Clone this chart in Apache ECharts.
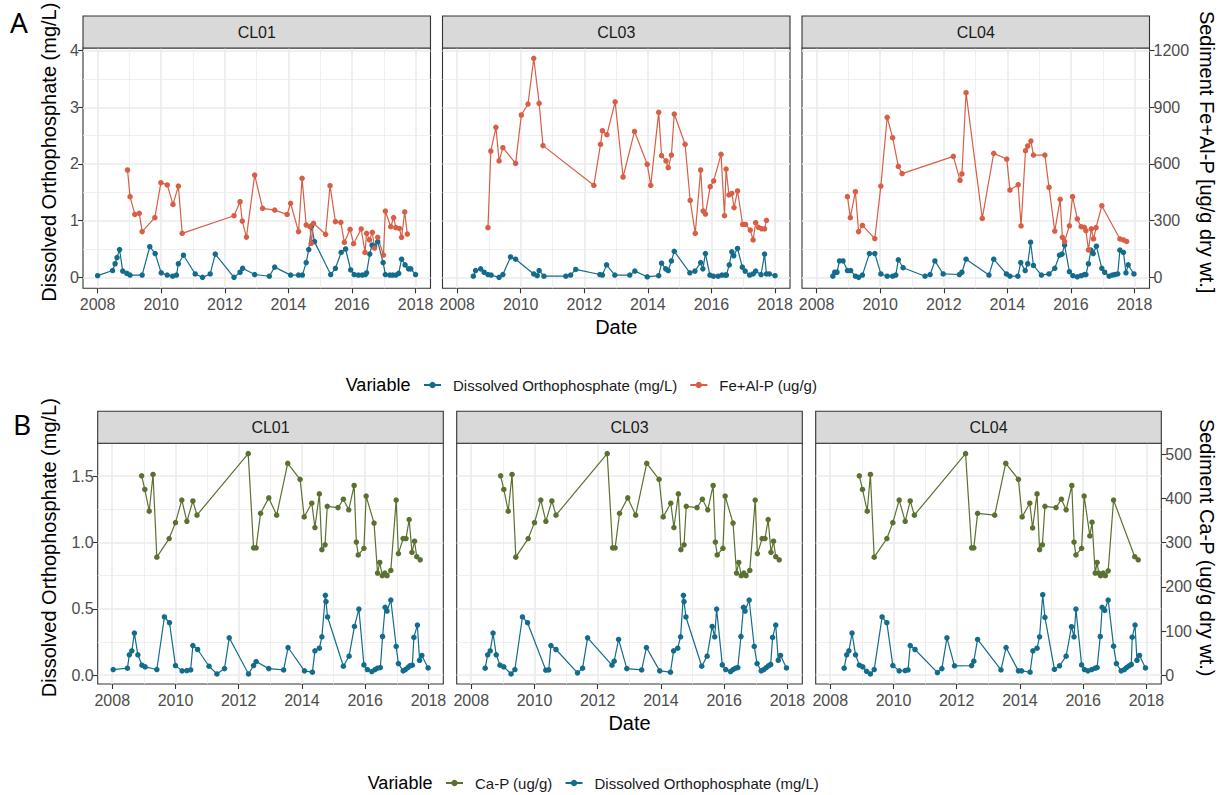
<!DOCTYPE html>
<html><head><meta charset="utf-8">
<script src="https://cdn.jsdelivr.net/npm/echarts@6/dist/echarts.min.js"></script>
<style>html,body{margin:0;padding:0;background:#fff}#c{width:1229px;height:795px}</style>
</head><body><div id="c"></div>
<script>
// ---------------- DATA (decimal year, value) ----------------
const SITES = ['CL01', 'CL03', 'CL04'];
const YEAR_TICKS = [2008, 2010, 2012, 2014, 2016, 2018];
const YEAR_MINOR = [2009, 2011, 2013, 2015, 2017];
const A_LEFT_TICKS = [0, 1, 2, 3, 4];
const A_LEFT_MINOR = [0.5, 1.5, 2.5, 3.5];
const A_RIGHT_TICKS = [0, 300, 600, 900, 1200];
const B_LEFT_TICKS = [0, 0.5, 1, 1.5];
const B_LEFT_MINOR = [0.25, 0.75, 1.25];
const B_RIGHT_TICKS = [0, 100, 200, 300, 400, 500];

const NAME_DO = 'Dissolved Orthophosphate (mg/L)';
const NAME_FEAL = 'Fe+Al-P (ug/g)';
const NAME_CAP = 'Ca-P (ug/g)';

// Panel A: dissolved orthophosphate (mg/L)
const A_CL01_DO = [[2008.00,0.03],[2008.47,0.12],[2008.55,0.24],[2008.61,0.35],[2008.69,0.49],[2008.79,0.11],[2008.92,0.07],[2009.02,0.04],[2009.40,0.04],[2009.64,0.54],[2009.81,0.42],[2010.00,0.08],[2010.19,0.04],[2010.36,0.02],[2010.48,0.04],[2010.54,0.24],[2010.70,0.39],[2011.07,0.06],[2011.30,0.00],[2011.54,0.06],[2011.70,0.41],[2012.29,0.00],[2012.48,0.09],[2012.56,0.16],[2012.94,0.05],[2013.40,0.02],[2013.57,0.18],[2014.07,0.04],[2014.32,0.04],[2014.44,0.04],[2014.56,0.26],[2014.64,0.49],[2014.73,0.91],[2014.82,0.63],[2015.33,0.05],[2015.48,0.16],[2015.66,0.44],[2015.80,0.50],[2015.96,0.13],[2016.07,0.05],[2016.20,0.04],[2016.32,0.04],[2016.42,0.05],[2016.46,0.08],[2016.56,0.41],[2016.63,0.57],[2016.71,0.55],[2016.81,0.63],[2016.98,0.26],[2017.05,0.05],[2017.19,0.04],[2017.28,0.04],[2017.38,0.04],[2017.47,0.07],[2017.56,0.32],[2017.67,0.22],[2017.78,0.15],[2017.85,0.15],[2018.00,0.05]];
const A_CL03_DO = [[2008.51,0.02],[2008.58,0.12],[2008.74,0.15],[2008.85,0.09],[2008.97,0.05],[2009.07,0.04],[2009.32,0.00],[2009.44,0.05],[2009.68,0.36],[2009.84,0.32],[2010.41,0.06],[2010.52,0.03],[2010.58,0.12],[2010.73,0.02],[2011.42,0.02],[2011.57,0.04],[2011.73,0.14],[2012.49,0.05],[2012.57,0.04],[2012.70,0.22],[2012.96,0.04],[2013.43,0.04],[2013.59,0.11],[2013.98,0.01],[2014.34,0.03],[2014.43,0.25],[2014.56,0.15],[2014.64,0.12],[2014.74,0.29],[2014.83,0.46],[2015.32,0.08],[2015.48,0.11],[2015.66,0.26],[2015.73,0.15],[2015.81,0.42],[2015.95,0.04],[2016.06,0.02],[2016.21,0.02],[2016.33,0.04],[2016.43,0.04],[2016.47,0.04],[2016.56,0.22],[2016.64,0.45],[2016.70,0.38],[2016.82,0.51],[2016.97,0.18],[2017.06,0.11],[2017.20,0.04],[2017.31,0.06],[2017.39,0.11],[2017.56,0.05],[2017.67,0.41],[2017.73,0.06],[2017.82,0.06],[2018.00,0.03]];
const A_CL04_DO = [[2008.51,0.02],[2008.57,0.09],[2008.64,0.09],[2008.72,0.29],[2008.83,0.29],[2008.97,0.12],[2009.07,0.12],[2009.22,0.02],[2009.32,0.00],[2009.44,0.04],[2009.66,0.42],[2009.83,0.42],[2010.02,0.06],[2010.22,0.02],[2010.39,0.02],[2010.49,0.04],[2010.57,0.31],[2010.72,0.17],[2011.41,0.02],[2011.57,0.05],[2011.72,0.29],[2011.98,0.06],[2012.49,0.05],[2012.57,0.09],[2012.70,0.32],[2013.42,0.04],[2013.57,0.32],[2013.97,0.06],[2014.08,0.02],[2014.33,0.02],[2014.42,0.26],[2014.56,0.12],[2014.64,0.24],[2014.73,0.62],[2014.82,0.21],[2015.07,0.04],[2015.31,0.06],[2015.49,0.16],[2015.64,0.39],[2015.72,0.41],[2015.80,0.57],[2015.95,0.10],[2016.06,0.03],[2016.20,0.01],[2016.32,0.03],[2016.42,0.05],[2016.47,0.05],[2016.55,0.24],[2016.63,0.48],[2016.70,0.42],[2016.80,0.55],[2016.97,0.16],[2017.06,0.09],[2017.20,0.02],[2017.30,0.04],[2017.38,0.05],[2017.47,0.06],[2017.54,0.48],[2017.65,0.44],[2017.73,0.08],[2017.80,0.22],[2017.98,0.06]];

// Panel A: sediment Fe+Al-P (ug/g dry wt.)
const A_CL01_FEAL = [[2008.94,568],[2009.02,427],[2009.17,333],[2009.31,339],[2009.40,242],[2009.80,316],[2009.99,501],[2010.19,489],[2010.37,386],[2010.54,483],[2010.66,233],[2012.29,326],[2012.48,400],[2012.55,298],[2012.68,213],[2012.94,541],[2013.19,365],[2013.57,356],[2013.96,333],[2014.07,392],[2014.32,242],[2014.43,524],[2014.56,277],[2014.68,268],[2014.72,180],[2014.79,286],[2015.17,228],[2015.31,485],[2015.48,295],[2015.65,291],[2015.76,185],[2015.94,254],[2016.05,178],[2016.29,256],[2016.41,132],[2016.46,233],[2016.55,198],[2016.64,238],[2016.71,155],[2016.81,212],[2016.99,118],[2017.05,351],[2017.22,268],[2017.31,316],[2017.38,263],[2017.49,259],[2017.56,212],[2017.66,346],[2017.74,229]];
const A_CL03_FEAL = [[2008.97,263],[2009.06,668],[2009.22,794],[2009.32,616],[2009.44,686],[2009.84,603],[2010.02,859],[2010.23,917],[2010.41,1159],[2010.58,921],[2010.70,697],[2012.30,487],[2012.51,704],[2012.57,776],[2012.71,755],[2012.97,929],[2013.22,531],[2013.58,772],[2013.98,598],[2014.09,487],[2014.34,873],[2014.43,644],[2014.57,616],[2014.64,580],[2014.74,647],[2014.83,864],[2015.17,704],[2015.33,407],[2015.49,233],[2015.66,568],[2015.74,351],[2015.81,335],[2015.96,480],[2016.07,510],[2016.30,651],[2016.41,326],[2016.46,573],[2016.55,436],[2016.64,444],[2016.71,369],[2016.82,457],[2016.98,280],[2017.07,280],[2017.22,250],[2017.31,198],[2017.39,289],[2017.48,265],[2017.58,257],[2017.67,256],[2017.73,302]];
const A_CL04_FEAL = [[2008.97,427],[2009.06,316],[2009.22,453],[2009.32,242],[2009.44,275],[2009.83,205],[2010.02,483],[2010.22,847],[2010.39,739],[2010.57,587],[2010.69,549],[2012.30,640],[2012.51,513],[2012.57,547],[2012.70,977],[2013.21,312],[2013.57,656],[2013.98,626],[2014.08,462],[2014.34,490],[2014.43,272],[2014.57,670],[2014.64,695],[2014.74,721],[2014.82,647],[2015.18,647],[2015.31,476],[2015.49,245],[2015.66,413],[2015.73,212],[2015.80,189],[2015.95,273],[2016.05,427],[2016.20,309],[2016.32,268],[2016.42,265],[2016.47,247],[2016.55,145],[2016.64,257],[2016.71,203],[2016.79,263],[2016.97,379],[2017.54,203],[2017.65,198],[2017.75,190]];

// Panel B: dissolved orthophosphate (mg/L)
const B_CL01_DO = [[2008.03,0.043],[2008.48,0.053],[2008.54,0.154],[2008.62,0.184],[2008.70,0.318],[2008.81,0.154],[2008.94,0.076],[2009.04,0.063],[2009.41,0.043],[2009.65,0.439],[2009.81,0.396],[2010.00,0.073],[2010.21,0.033],[2010.36,0.035],[2010.48,0.040],[2010.55,0.224],[2010.70,0.194],[2011.06,0.068],[2011.31,0.010],[2011.55,0.050],[2011.70,0.282],[2012.31,0.010],[2012.47,0.073],[2012.55,0.103],[2012.95,0.050],[2013.42,0.040],[2013.56,0.209],[2014.08,0.033],[2014.33,0.023],[2014.41,0.184],[2014.55,0.204],[2014.63,0.290],[2014.74,0.602],[2014.76,0.555],[2014.81,0.439],[2015.31,0.068],[2015.49,0.144],[2015.66,0.368],[2015.80,0.499],[2015.96,0.078],[2016.07,0.043],[2016.21,0.028],[2016.31,0.043],[2016.39,0.053],[2016.48,0.058],[2016.55,0.292],[2016.63,0.512],[2016.69,0.484],[2016.81,0.567],[2016.98,0.217],[2017.05,0.088],[2017.20,0.033],[2017.27,0.043],[2017.35,0.058],[2017.41,0.071],[2017.49,0.076],[2017.54,0.285],[2017.65,0.378],[2017.72,0.113],[2017.79,0.149],[2017.99,0.055]];
const B_CL03_DO = [[2008.44,0.053],[2008.52,0.154],[2008.60,0.184],[2008.69,0.318],[2008.79,0.154],[2008.91,0.076],[2009.03,0.063],[2009.26,0.010],[2009.38,0.043],[2009.62,0.439],[2009.78,0.396],[2010.36,0.038],[2010.45,0.040],[2010.52,0.224],[2010.68,0.194],[2011.36,0.018],[2011.52,0.053],[2011.68,0.282],[2012.45,0.076],[2012.52,0.106],[2012.66,0.270],[2012.92,0.050],[2013.39,0.040],[2013.54,0.209],[2013.96,0.033],[2014.30,0.023],[2014.40,0.184],[2014.53,0.204],[2014.62,0.290],[2014.71,0.602],[2014.73,0.555],[2014.79,0.439],[2015.29,0.068],[2015.46,0.144],[2015.62,0.368],[2015.70,0.290],[2015.76,0.499],[2015.94,0.078],[2016.05,0.043],[2016.20,0.028],[2016.28,0.043],[2016.36,0.053],[2016.43,0.058],[2016.53,0.292],[2016.61,0.512],[2016.66,0.484],[2016.79,0.567],[2016.95,0.217],[2017.04,0.088],[2017.17,0.033],[2017.25,0.043],[2017.33,0.058],[2017.40,0.071],[2017.47,0.081],[2017.53,0.285],[2017.63,0.378],[2017.71,0.113],[2017.78,0.149],[2017.97,0.055]];
const B_CL04_DO = [[2008.44,0.053],[2008.52,0.154],[2008.59,0.184],[2008.69,0.318],[2008.80,0.154],[2008.92,0.076],[2009.03,0.063],[2009.15,0.030],[2009.27,0.010],[2009.39,0.043],[2009.64,0.439],[2009.79,0.396],[2009.98,0.073],[2010.18,0.033],[2010.37,0.035],[2010.46,0.040],[2010.53,0.224],[2010.68,0.194],[2011.39,0.020],[2011.53,0.050],[2011.69,0.282],[2011.93,0.071],[2012.47,0.073],[2012.54,0.106],[2012.66,0.270],[2013.40,0.040],[2013.56,0.209],[2013.95,0.033],[2014.05,0.033],[2014.32,0.023],[2014.41,0.184],[2014.54,0.204],[2014.62,0.290],[2014.72,0.607],[2014.79,0.436],[2015.09,0.045],[2015.25,0.071],[2015.46,0.144],[2015.63,0.366],[2015.71,0.290],[2015.77,0.499],[2015.95,0.078],[2016.04,0.043],[2016.15,0.033],[2016.27,0.043],[2016.38,0.053],[2016.44,0.058],[2016.54,0.292],[2016.60,0.512],[2016.68,0.489],[2016.79,0.567],[2016.96,0.219],[2017.05,0.088],[2017.20,0.033],[2017.30,0.043],[2017.37,0.058],[2017.45,0.071],[2017.52,0.081],[2017.55,0.287],[2017.64,0.378],[2017.70,0.113],[2017.78,0.149],[2017.97,0.055]];

// Panel B: sediment Ca-P (ug/g dry wt.)
const B_CL01_CAP = [[2008.93,451],[2009.03,420],[2009.17,371],[2009.29,454],[2009.41,267],[2009.80,309],[2010.00,345],[2010.20,396],[2010.36,348],[2010.55,394],[2010.68,362],[2012.30,501],[2012.47,288],[2012.55,288],[2012.69,366],[2012.95,401],[2013.20,362],[2013.55,479],[2013.94,443],[2014.07,358],[2014.31,389],[2014.41,334],[2014.55,410],[2014.63,284],[2014.73,295],[2014.80,382],[2015.14,379],[2015.31,398],[2015.48,374],[2015.65,429],[2015.72,301],[2015.78,272],[2015.96,287],[2016.03,405],[2016.28,344],[2016.39,231],[2016.46,255],[2016.54,225],[2016.62,231],[2016.69,225],[2016.81,237],[2016.98,396],[2017.05,275],[2017.20,309],[2017.29,309],[2017.39,352],[2017.48,278],[2017.56,303],[2017.63,268],[2017.74,261]];
const B_CL03_CAP = [[2008.93,451],[2009.03,420],[2009.17,371],[2009.29,454],[2009.41,267],[2009.80,309],[2010.00,345],[2010.20,396],[2010.36,348],[2010.55,394],[2010.68,362],[2012.30,501],[2012.47,288],[2012.55,288],[2012.69,366],[2012.95,401],[2013.20,362],[2013.55,479],[2013.94,443],[2014.07,358],[2014.31,389],[2014.41,334],[2014.55,410],[2014.63,284],[2014.73,295],[2014.80,382],[2015.14,379],[2015.31,398],[2015.48,374],[2015.65,429],[2015.72,301],[2015.78,272],[2015.96,287],[2016.03,405],[2016.28,344],[2016.39,231],[2016.46,255],[2016.54,225],[2016.62,231],[2016.69,225],[2016.81,237],[2016.98,396],[2017.05,275],[2017.20,309],[2017.29,309],[2017.39,352],[2017.48,278],[2017.56,303],[2017.63,268],[2017.74,261]];
const B_CL04_CAP = [[2008.92,451],[2009.02,420],[2009.17,371],[2009.27,454],[2009.39,267],[2009.79,309],[2009.98,345],[2010.18,396],[2010.37,348],[2010.53,394],[2010.66,362],[2012.28,501],[2012.47,288],[2012.54,288],[2012.66,366],[2013.20,362],[2013.55,479],[2013.95,443],[2014.07,358],[2014.31,389],[2014.40,333],[2014.54,410],[2014.62,284],[2014.71,295],[2014.79,382],[2015.14,379],[2015.31,398],[2015.46,374],[2015.64,429],[2015.71,301],[2015.77,272],[2015.95,287],[2016.03,405],[2016.21,315],[2016.28,346],[2016.38,231],[2016.44,255],[2016.49,231],[2016.55,225],[2016.63,231],[2016.70,225],[2016.79,236],[2016.96,396],[2017.63,268],[2017.74,261]];

// ---------------- STYLE / LAYOUT ----------------
const FONT = '"Liberation Sans", Arial, Helvetica, sans-serif';
const BLUE = '#136c8c', RED = '#d65f45', GREEN = '#5b7130';
const X_MIN = 2007.54, X_MAX = 2018.47;

const panels = [
  { letter: 'A', lefts: [83, 442.5, 802], width: 347.5, top: 48, height: 240.3,
    yMin: -0.193, yMax: 4.045, ratio: 300,
    lt: A_LEFT_TICKS, lm: A_LEFT_MINOR, rt: A_RIGHT_TICKS, fmt: v => String(v),
    doData: [A_CL01_DO, A_CL03_DO, A_CL04_DO], sedData: [A_CL01_FEAL, A_CL03_FEAL, A_CL04_FEAL],
    sedName: NAME_FEAL, sedColor: RED, doFirst: true,
    rightTitle: 'Sediment Fe+Al-P [ug/g dry wt.]',
    legendLeft: 423, legendY: 385, varX: 345.7 },
  { letter: 'B', lefts: [97.7, 456.7, 815.7], width: 345.6, top: 443.3, height: 240.7,
    yMin: -0.066, yMax: 1.748, ratio: 300,
    lt: B_LEFT_TICKS, lm: B_LEFT_MINOR, rt: B_RIGHT_TICKS, fmt: v => v.toFixed(1),
    doData: [B_CL01_DO, B_CL03_DO, B_CL04_DO], sedData: [B_CL01_CAP, B_CL03_CAP, B_CL04_CAP],
    sedName: NAME_CAP, sedColor: GREEN, doFirst: false,
    rightTitle: 'Sediment Ca-P (ug/g dry wt.)',
    legendLeft: 445, legendY: 783, varX: 367.7 }
];

const option = {
  animation: false, backgroundColor: '#ffffff', textStyle: { fontFamily: FONT },
  grid: [], xAxis: [], yAxis: [], series: [], legend: [], graphic: []
};
const tickLine = { color: '#333333', width: 1.1 };
const majorGrid = { color: '#EBEBEB', width: 1.6 };
const minorGrid = { color: '#EBEBEB', width: 0.8 };
const STRIP_H = 32;

panels.forEach(p => {
  p.lefts.forEach((L, f) => {
    const gi = option.grid.length;
    option.grid.push({ left: L, top: p.top, width: p.width, height: p.height, show: true,
      borderColor: '#333333', borderWidth: 1.1, backgroundColor: 'rgba(0,0,0,0)',
      containLabel: false, outerBoundsMode: 'none' });
    const xi = option.xAxis.length;
    option.xAxis.push({ gridIndex: gi, type: 'value', min: X_MIN, max: X_MAX, position: 'bottom',
      axisLine: { show: false, onZero: false },
      axisTick: { show: true, inside: false, length: 5, customValues: YEAR_TICKS, lineStyle: tickLine },
      axisLabel: { show: true, customValues: YEAR_TICKS, formatter: v => String(Math.round(v)),
        color: '#4D4D4D', fontSize: 16, margin: 8, fontFamily: FONT },
      splitLine: { show: true, lineStyle: majorGrid },
      name: f === 1 ? 'Date' : '', nameLocation: 'middle', nameGap: 29,
      nameTextStyle: { fontSize: 20, color: '#000000', fontFamily: FONT } });
    option.xAxis.push({ gridIndex: gi, type: 'value', min: X_MIN, max: X_MAX, position: 'top',
      axisLine: { show: false, onZero: false },
      axisTick: { show: false, customValues: YEAR_MINOR },
      axisLabel: { show: false, customValues: YEAR_MINOR },
      splitLine: { show: true, lineStyle: minorGrid } });
    const yl = option.yAxis.length;
    option.yAxis.push({ gridIndex: gi, type: 'value', min: p.yMin, max: p.yMax, position: 'left',
      axisLine: { show: false, onZero: false },
      axisTick: { show: f === 0, inside: false, length: 5, customValues: p.lt, lineStyle: tickLine },
      axisLabel: { show: f === 0, customValues: p.lt, formatter: p.fmt, color: '#4D4D4D',
        fontSize: 16, margin: 4, fontFamily: FONT },
      splitLine: { show: true, lineStyle: majorGrid } });
    const yr = option.yAxis.length;
    option.yAxis.push({ gridIndex: gi, type: 'value', min: p.yMin * p.ratio, max: p.yMax * p.ratio,
      position: 'right',
      axisLine: { show: false, onZero: false },
      axisTick: { show: f === 2, inside: false, length: 5, customValues: p.rt, lineStyle: tickLine },
      axisLabel: { show: f === 2, customValues: p.rt, formatter: v => String(Math.round(v)),
        color: '#4D4D4D', fontSize: 16, margin: 4, fontFamily: FONT },
      splitLine: { show: false } });
    option.yAxis.push({ gridIndex: gi, type: 'value', min: p.yMin, max: p.yMax, position: 'left',
      axisLine: { show: false, onZero: false },
      axisTick: { show: false, customValues: p.lm },
      axisLabel: { show: false, customValues: p.lm },
      splitLine: { show: true, lineStyle: minorGrid } });

    const doSeries = { type: 'line', name: NAME_DO, xAxisIndex: xi, yAxisIndex: yl,
      data: p.doData[f], symbol: 'circle', symbolSize: 5.5, color: BLUE,
      lineStyle: { width: 1.2, color: BLUE }, itemStyle: { color: BLUE }, emphasis: { disabled: true } };
    const sedSeries = { type: 'line', name: p.sedName, xAxisIndex: xi, yAxisIndex: yr,
      data: p.sedData[f], symbol: 'circle', symbolSize: 5.5, color: p.sedColor,
      lineStyle: { width: 1.2, color: p.sedColor }, itemStyle: { color: p.sedColor }, emphasis: { disabled: true } };
    if (p.doFirst) option.series.push(doSeries, sedSeries);
    else option.series.push(sedSeries, doSeries);

    // facet strip
    option.graphic.push({ type: 'rect', z: 10,
      shape: { x: L, y: p.top - STRIP_H, width: p.width, height: STRIP_H },
      style: { fill: '#D9D9D9', stroke: '#333333', lineWidth: 1.1 } });
    option.graphic.push({ type: 'text', z: 11, x: L + p.width / 2, y: p.top - STRIP_H / 2,
      style: { text: SITES[f], font: '16px ' + FONT, fill: '#1A1A1A',
        textAlign: 'center', textVerticalAlign: 'middle' } });
  });

  const midY = (p.top - STRIP_H + p.top + p.height) / 2;
  option.graphic.push({ type: 'text', x: 49, y: midY, rotation: Math.PI / 2,
    style: { text: 'Dissolved Orthophosphate (mg/L)', font: '20px ' + FONT, fill: '#000000',
      textAlign: 'center', textVerticalAlign: 'middle' } });
  option.graphic.push({ type: 'text', x: 1207, y: midY, rotation: -Math.PI / 2,
    style: { text: p.rightTitle, font: '20px ' + FONT, fill: '#000000',
      textAlign: 'center', textVerticalAlign: 'middle' } });
  option.graphic.push({ type: 'text', x: p.letter === 'A' ? 19 : 22, y: p.letter === 'A' ? 22 : 424,
    style: { text: p.letter, font: '28px "Noto Sans", "Open Sans", sans-serif', fill: '#000000',
      textAlign: 'center', textVerticalAlign: 'middle' } });
  option.graphic.push({ type: 'text', x: p.varX, y: p.legendY,
    style: { text: 'Variable', font: '18px ' + FONT, fill: '#000000',
      textAlign: 'left', textVerticalAlign: 'middle' } });

  option.legend.push({ left: p.legendLeft, top: p.legendY - 7.5, orient: 'horizontal', padding: 0,
    itemWidth: 17, itemHeight: 8, itemGap: 12, selectedMode: false,
    data: p.doFirst ? [NAME_DO, p.sedName] : [p.sedName, NAME_DO],
    textStyle: { fontSize: 15, color: '#1A1A1A', fontFamily: FONT, padding: [0, 0, 0, 7] } });
});

const chart = echarts.init(document.getElementById('c'), null, { renderer: 'svg', width: 1229, height: 795 });
chart.setOption(option);
</script></body></html>
